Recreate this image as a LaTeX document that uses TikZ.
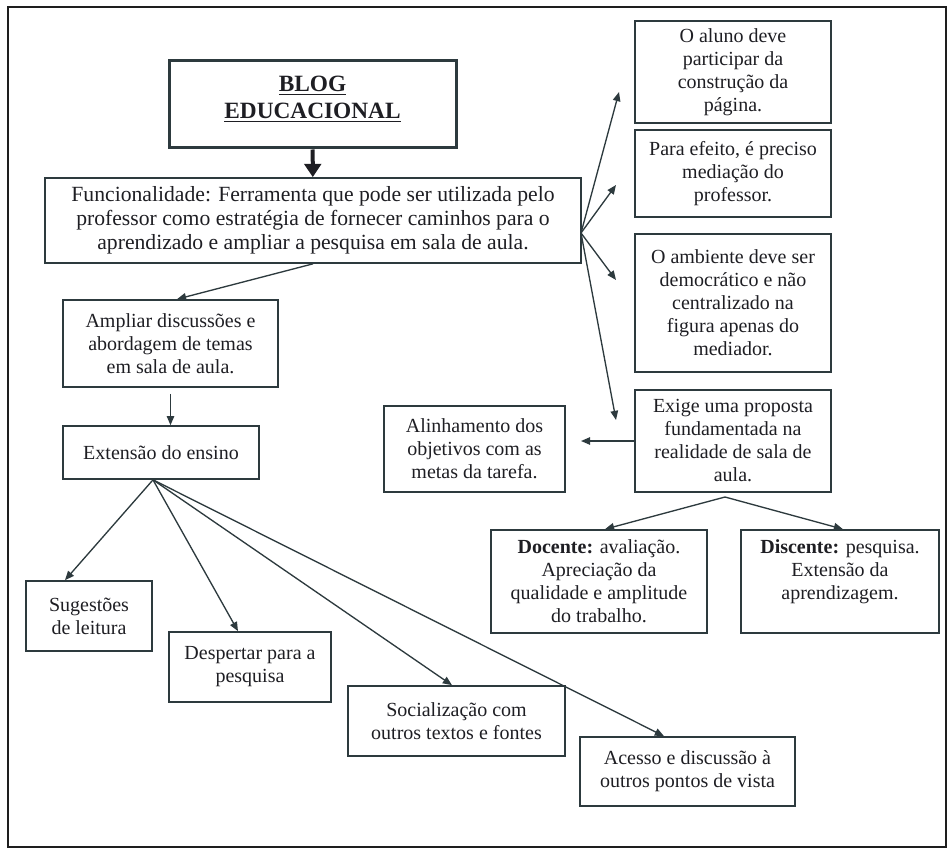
\documentclass[tikz,border=0pt]{standalone}
\usepackage{fontspec}
\setmainfont{Liberation Serif}
\usetikzlibrary{arrows.meta}
\definecolor{framec}{RGB}{30,30,30}
\definecolor{linec}{RGB}{45,58,62}
\definecolor{inkc}{RGB}{30,30,35}

\tikzset{
  card/.style={draw=linec, line width=1pt, align=center, inner sep=2pt, text=inkc,
    font=\fontsize{12}{13.8}\selectfont},
  boxsize/.style 2 args={minimum width=#1*0.6pt, minimum height=#2*0.6pt},
  link/.style={draw=linec, line width=0.8pt, -{Triangle[length=5.5pt,width=4.5pt]}},
}

\begin{document}
\begin{tikzpicture}[x=0.6pt, y=-0.6pt]
  \useasboundingbox (0,0) rectangle (948,849);
  \draw[framec, line width=1.5pt] (8,7) rectangle (946,847);

  % left column
  \node[card, boxsize={287}{87}, line width=1.8pt, font=\fontsize{14}{16.2}\selectfont\bfseries] (blog) at (312.5,104.5)
    {\underline{BLOG}\\ \underline{EDUCACIONAL}\\[-8pt] \mbox{}};
  \node[card, boxsize={536}{85}, font=\fontsize{13}{14.4}\selectfont] (func) at (313,220.5)
    {Funcionalidade: Ferramenta que pode ser utilizada pelo\\ professor como estratégia de fornecer caminhos para o\\ aprendizado e ampliar a pesquisa em sala de aula.};
  \node[card, boxsize={215}{87}] (ampliar) at (170.5,343.5) {Ampliar discussões e\\ abordagem de temas\\ em sala de aula.};
  \node[card, boxsize={196}{53}] (extensao) at (161,452.5) {Extensão do ensino};

  % bottom row
  \node[card, boxsize={126}{70}] (sugest) at (89,616) {Sugestões\\ de leitura};
  \node[card, boxsize={162}{70}] (despert) at (250,667) {Despertar para a\\ pesquisa};
  \node[card, boxsize={217}{70}] (social) at (456.5,721) {Socialização com\\ outros textos e fontes};
  \node[card, boxsize={215}{69}] (acesso) at (687.5,771.5) {Acesso e discussão à\\ outros pontos de vista};

  % right column
  \node[card, boxsize={196}{102}] (aluno) at (733,72) {O aluno deve\\ participar da\\ construção da\\ página.};
  \node[card, boxsize={196}{87}] (efeito) at (733,173.5) {Para efeito, é preciso\\ mediação do\\ professor.};
  \node[card, boxsize={196}{138}] (ambiente) at (733,303) {O ambiente deve ser\\ democrático e não\\ centralizado na\\ figura apenas do\\ mediador.};
  \node[card, boxsize={196}{102}] (exige) at (733,441) {Exige uma proposta\\ fundamentada na\\ realidade de sala de\\ aula.};
  \node[card, boxsize={181}{86}] (alinha) at (474.5,449) {Alinhamento dos\\ objetivos com as\\ metas da tarefa.};
  \node[card, boxsize={216}{103}] (docente) at (599,581.5) {\textbf{Docente:} avaliação.\\ Apreciação da\\ qualidade e amplitude\\ do trabalho.};
  \node[card, boxsize={198}{103}] (discente) at (840,581.5) {\textbf{Discente:} pesquisa.\\ Extensão da\\ aprendizagem.\\ \mbox{}};

  % free ends
  \coordinate (fanr) at (581,233);
  \coordinate (tipa) at (619,92);
  \coordinate (tipb) at (616,185);
  \coordinate (tipc) at (616,280);
  \coordinate (tipd) at (616,420);
  \coordinate (tipe) at (581,441);
  \coordinate (split) at (725,497);

  % arrows
  \draw[draw=inkc, line width=2.4pt, -{Triangle[length=8pt,width=10pt]}] (blog) -- (func);
  \draw[link] (func.south) -- ([xshift=3.9pt]ampliar.north);
  \draw[link] ([yshift=-3.6pt]ampliar.south) -- (ampliar.south |- extensao.north);
  \foreach \tip in {tipa,tipb,tipc,tipd}
    \draw[link] (fanr) -- (\tip);
  \draw[link] (exige.west) -- (tipe);
  \draw[link] (split) -- ([xshift=3.6pt]docente.north);
  \draw[link] (split) -- ([xshift=1.8pt]discente.north);
  \foreach \target/\dx in {sugest/-14.4,despert/-7.2,social/-2.7,acesso/-14.1}
    \draw[link] ([xshift=-4.8pt]extensao.south) -- ([xshift=\dx pt]\target.north);
\end{tikzpicture}
\end{document}
